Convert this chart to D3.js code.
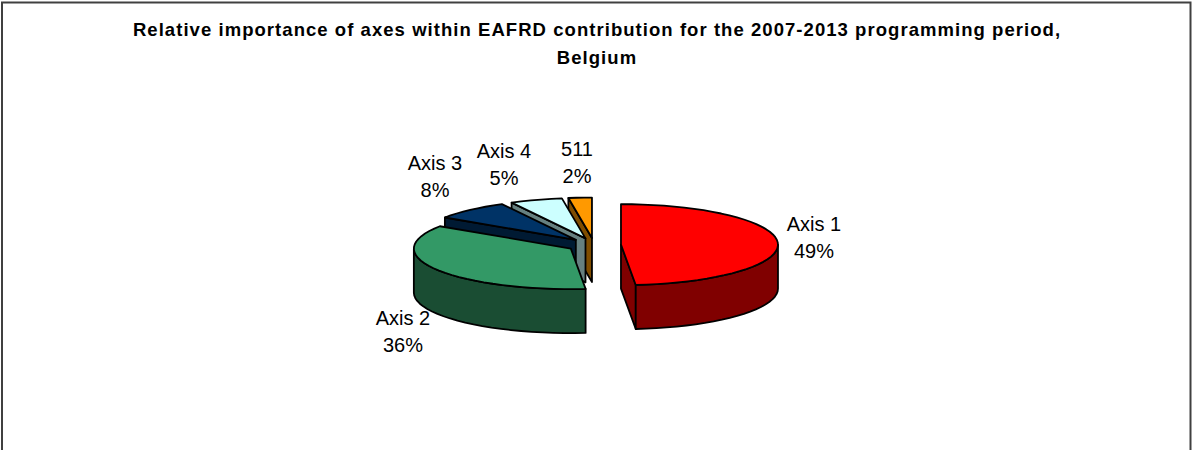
<!DOCTYPE html>
<html><head><meta charset="utf-8">
<script src="https://cdn.jsdelivr.net/npm/d3@7"></script>
<style>html,body{margin:0;padding:0;background:#fff}svg{display:block}text{font-family:"Liberation Sans",Arial,sans-serif;fill:#000}</style>
</head><body><svg id="c" width="1192" height="450"></svg>
<script>
const categories = ["Axis 1","Axis 2","Axis 3","Axis 4","511"];
const values = [48.5,35.8,7.9,5.4,2.4];
const percentLabels = ["49%","36%","8%","5%","2%"];
const topColors = ["#ff0000","#339966","#003366","#ccffff","#ff9900"];
const wallColors = ["#800000","#1a4d33","#001a33","#668080","#804d00"];
const titleLines = ["Relative importance of axes within EAFRD contribution for the 2007-2013 programming period,","Belgium"];
const labelAnchors = [[814,231],[403,325],[435,170],[504,158],[577,156]];

const svg = d3.select("#c");
svg.append("rect").attr("x",2).attr("y",2.5).attr("width",1188.5).attr("height",460)
  .attr("fill","#fff").attr("stroke","#404040").attr("stroke-width",2);

const cx=594, cy=245, rx=157, ry=40.5, depth=44, explode=27/157;
const X=d3.scaleLinear().domain([-1,1]).range([cx-rx,cx+rx]);
const Y=d3.scaleLinear().domain([-1,1]).range([cy-ry,cy+ry]);
const arcs=d3.pie().sort(null).startAngle(0).endAngle(2*Math.PI)(values);
const line=d3.line().x(d=>X(d[0])).y(d=>Y(d[1])+d[2]);
const g=svg.append("g").attr("stroke","#000").attr("stroke-width",1.8).attr("stroke-linejoin","round");
const order=[4,3,2,1,0];
function sampled(a0,a1){const n=Math.max(2,Math.ceil((a1-a0)/(Math.PI/45)));return d3.range(n+1).map(i=>a0+(a1-a0)*i/n);}
order.forEach(i=>{
  const a=arcs[i], mid=(a.startAngle+a.endAngle)/2;
  const ox=explode*Math.sin(mid), oy=-explode*Math.cos(mid);
  const P=(t,r,z)=>[ox+r*Math.sin(t),oy-r*Math.cos(t),z];
  const face=pts=>g.append("path").attr("d",line(pts)+"Z");
  // radial faces pointing toward the viewer
  [[a.startAngle,-Math.PI/2],[a.endAngle,Math.PI/2]].forEach(([t,n])=>{
    if(Math.cos(t+n)<-1e-6) face([P(t,0,0),P(t,1,0),P(t,1,depth),P(t,0,depth)]).attr("fill",wallColors[i]);
  });
  // outer wall
  const w0=Math.max(a.startAngle,Math.PI/2), w1=Math.min(a.endAngle,3*Math.PI/2);
  if(w1>w0){const s=sampled(w0,w1);
    face(s.map(t=>P(t,1,0)).concat(s.slice().reverse().map(t=>P(t,1,depth)))).attr("fill",wallColors[i]);}
  // top
  face([P(0,0,0)].concat(sampled(a.startAngle,a.endAngle).map(t=>P(t,1,0)))).attr("fill",topColors[i]);
});
const t=svg.append("g").attr("text-anchor","middle").attr("font-weight","bold").attr("font-size",18.5).attr("letter-spacing",1.05);
titleLines.forEach((s,i)=>t.append("text").attr("x",597).attr("y",36+i*28).text(s));
const l=svg.append("g").attr("text-anchor","middle").attr("font-size",20);
categories.forEach((c,i)=>{
  l.append("text").attr("x",labelAnchors[i][0]).attr("y",labelAnchors[i][1]).text(c);
  l.append("text").attr("x",labelAnchors[i][0]).attr("y",labelAnchors[i][1]+27).text(percentLabels[i]);
});
</script></body></html>
